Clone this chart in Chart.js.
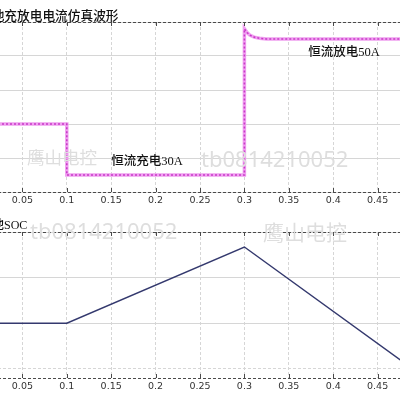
<!DOCTYPE html>
<html>
<head>
<meta charset="utf-8">
<script src="https://cdn.jsdelivr.net/npm/chart.js@4.4.1/dist/chart.umd.min.js"></script>
<style>
html, body { margin: 0; padding: 0; width: 400px; height: 400px; overflow: hidden; background: #fff; }
canvas { position: absolute; }
#currentChart { left: -25px; top: 0; }
#socChart { left: -25px; top: 210px; }
.title { position: absolute; white-space: nowrap; color: #111; line-height: 1; }
.wm { position: absolute; white-space: nowrap; color: #dedede; line-height: 1; pointer-events: none; }
</style>
</head>
<body>
<canvas id="currentChart" width="450" height="212"></canvas>
<canvas id="socChart" width="450" height="188"></canvas>

<div class="title" style="left:-21px; top:5px; font: 500 12.7px 'Noto Sans CJK SC';">电池充放电电流仿真波形</div>
<div class="title" style="left:-20px; top:215px; font: 500 12px 'Liberation Serif', 'Noto Sans CJK SC';">电池SOC</div>

<div class="wm" style="left:27px; top:144px; font: 17.5px 'Noto Sans CJK SC';">鹰山电控</div>
<div class="wm" style="left:201px; top:143px; font: 22px 'Noto Sans';">tb0814210052</div>
<div class="wm" style="left:30px; top:215px; font: 22px 'Noto Sans';">tb0814210052</div>
<div class="wm" style="left:263px; top:216px; font: 21px 'Noto Sans CJK SC';">鹰山电控</div>

<script>
// time axis (s)
const xTicks = [0, 0.05, 0.1, 0.15, 0.2, 0.25, 0.3, 0.35, 0.4, 0.45, 0.5];

// battery current (A)
const timeCurrent = [0, 0.1, 0.1, 0.3, 0.3, 0.303, 0.306, 0.311, 0.317, 0.325, 0.5];
const current = [0, 0, -30, -30, 56, 53.8, 52.3, 51.1, 50.4, 50, 50];
const currentTicks = [-40, -20, 0, 20, 40, 60];

// state of charge (%)
const timeSoc = [0, 0.1, 0.3, 0.5];
const soc = [50, 50, 50.0334, 49.977];
const socTicks = [49.98, 50, 50.02, 50.04];

const currentNotes = [
    { text: '恒流放电50A', x: 0.372, y: 41.8 },
    { text: '恒流充电30A', x: 0.15, y: -22.4 }
];

const gridColor = '#d6d6d6';

// dashed box lines + inward tick marks, like the matlab figure
const frame = {
    id: 'frame',
    afterDraw(chart) {
        const { ctx, chartArea: a, scales: { x } } = chart;
        ctx.save();
        ctx.strokeStyle = '#4a4a4a';
        ctx.lineWidth = 1;
        ctx.setLineDash([3, 2]);
        ctx.beginPath();
        ctx.moveTo(a.left, Math.round(a.top) + 0.5);
        ctx.lineTo(a.right, Math.round(a.top) + 0.5);
        ctx.moveTo(a.left, Math.round(a.bottom) + 0.5);
        ctx.lineTo(a.right, Math.round(a.bottom) + 0.5);
        ctx.stroke();
        ctx.setLineDash([]);
        ctx.beginPath();
        xTicks.forEach(v => {
            const px = Math.round(x.getPixelForValue(v)) + 0.5;
            ctx.moveTo(px, a.top);
            ctx.lineTo(px, a.top + 4);
            ctx.moveTo(px, a.bottom);
            ctx.lineTo(px, a.bottom - 4);
        });
        ctx.stroke();

        const notes = chart.options.plugins.frame.notes || [];
        ctx.fillStyle = '#111';
        ctx.font = '500 12.5px "Liberation Serif", "Noto Sans CJK SC"';
        ctx.textBaseline = 'middle';
        notes.forEach(n => {
            ctx.fillText(n.text, x.getPixelForValue(n.x), chart.scales.y.getPixelForValue(n.y));
        });
        ctx.restore();
    }
};

function xScale() {
    return {
        type: 'linear',
        min: 0,
        max: 0.5,
        afterBuildTicks: (s) => { s.ticks = xTicks.map(v => ({ value: v })); },
        afterFit: (s) => { s.height = 20; },
        ticks: {
            autoSkip: false,
            maxRotation: 0,
            padding: 3,
            color: '#333',
            font: { family: 'DejaVu Sans', size: 9.5 },
            callback: (v) => (v === 0 || v === 0.5) ? '' : String(v)
        },
        grid: { color: gridColor, drawTicks: false },
        border: { display: false, dash: [3, 2] }
    };
}

function yScale(min, max, ticks, dashedValue) {
    return {
        min: min,
        max: max,
        afterBuildTicks: (s) => { s.ticks = ticks.map(v => ({ value: v })); },
        afterFit: (s) => { s.width = 0; },
        ticks: { display: false },
        grid: { color: gridColor, drawTicks: false },
        border: {
            display: false,
            dash: (ctx) => (ctx.tick && ctx.tick.value === dashedValue) ? [3, 2] : []
        }
    };
}

const currentPoints = timeCurrent.map((t, i) => ({ x: t, y: current[i] }));
const socPoints = timeSoc.map((t, i) => ({ x: t, y: soc[i] }));

new Chart(document.getElementById('currentChart'), {
    type: 'line',
    data: {
        datasets: [
            { data: currentPoints, borderColor: '#c83ac8', borderWidth: 1.6, borderDash: [2, 2], pointRadius: 0, tension: 0, order: 1 },
            { data: currentPoints, borderColor: '#f0a0f0', borderWidth: 3.5, pointRadius: 0, tension: 0, order: 2 }
        ]
    },
    options: {
        responsive: false,
        animation: false,
        layout: { padding: { top: 22, left: 0, right: 0, bottom: 0 } },
        scales: { x: xScale(), y: yScale(-40, 60, currentTicks, null) },
        plugins: { legend: { display: false }, tooltip: { enabled: false }, frame: { notes: currentNotes } }
    },
    plugins: [frame]
});

new Chart(document.getElementById('socChart'), {
    type: 'line',
    data: {
        datasets: [
            { data: socPoints, borderColor: '#34396e', borderWidth: 1.4, pointRadius: 0, tension: 0 }
        ]
    },
    options: {
        responsive: false,
        animation: false,
        layout: { padding: { top: 22, left: 0, right: 0, bottom: 0 } },
        scales: { x: xScale(), y: yScale(49.976, 50.04, socTicks, 49.98) },
        plugins: { legend: { display: false }, tooltip: { enabled: false }, frame: { notes: [] } }
    },
    plugins: [frame]
});
</script>
</body>
</html>
